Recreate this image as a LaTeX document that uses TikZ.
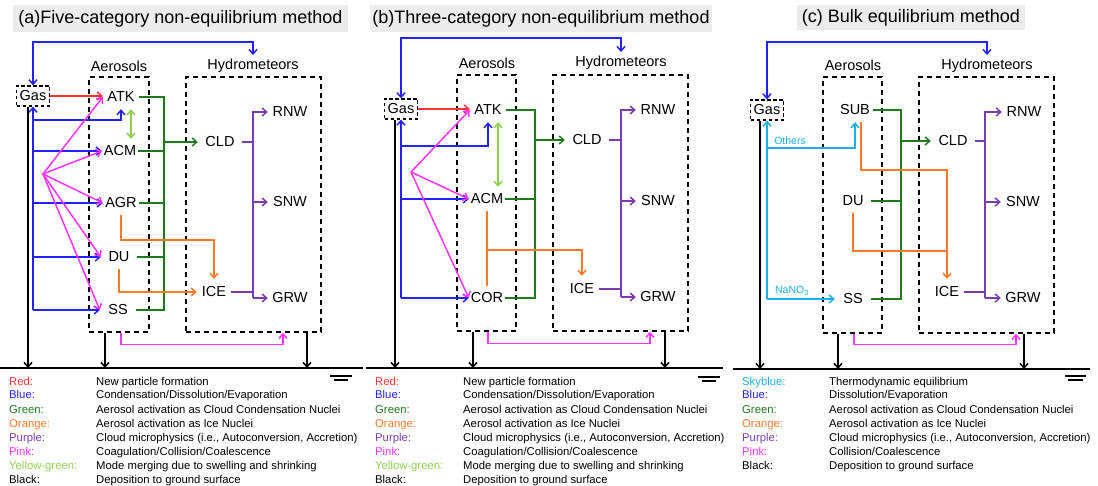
\documentclass[tikz,border=0pt]{standalone}
\usepackage{fontspec}
\setmainfont{Liberation Sans}
\usetikzlibrary{arrows.meta,calc}
\definecolor{cRed}{HTML}{FF3333}
\definecolor{cBlue}{HTML}{2222FF}
\definecolor{cGreen}{HTML}{1F7A1F}
\definecolor{cOrange}{HTML}{FF7A26}
\definecolor{cPurple}{HTML}{7A3DB0}
\definecolor{cPink}{HTML}{FF33FF}
\definecolor{cYG}{HTML}{8FD14F}
\definecolor{cSky}{HTML}{1AAFEF}
\definecolor{cTitle}{HTML}{ECECEC}
\newcommand{\fsNode}{\fontsize{14.5}{17}\selectfont}
\newcommand{\fsTitle}{\fontsize{18}{21}\selectfont}
\newcommand{\fsLeg}{\fontsize{11.3}{13}\selectfont}
\newcommand{\fsSmall}{\fontsize{10.5}{12}\selectfont}
\begin{document}
\begin{tikzpicture}[x=1pt,y=-1pt,
  wl/.style={line width=1.5pt},
  arr/.style={-{Straight Barb[length=4.5pt,width=8pt]}},
  darr/.style={{Straight Barb[length=4.5pt,width=8pt]}-{Straight Barb[length=4.5pt,width=8pt]}},
  lR/.style={wl,draw=cRed}, lB/.style={wl,draw=cBlue}, lG/.style={wl,draw=cGreen},
  lO/.style={wl,draw=cOrange}, lP/.style={wl,draw=cPurple}, lK/.style={wl,draw=cPink},
  lY/.style={wl,draw=cYG}, lS/.style={wl,draw=cSky}, lBk/.style={wl,draw=black},
  aer/.style={font=\fsNode, inner sep=0pt, minimum width=36pt, minimum height=24pt},
  hyd/.style={font=\fsNode, inner sep=0pt, minimum width=44pt, minimum height=24pt},
  icen/.style={font=\fsNode, inner sep=0pt, minimum width=34pt, minimum height=26pt},
  hdr/.style={font=\fsNode, inner sep=1pt},
  dbox/.style={draw, line width=1.5pt, dash pattern=on 5pt off 4pt, inner sep=0pt},
  gasbox/.style={draw, line width=1.3pt, dash pattern=on 3.5pt off 2.5pt, minimum width=33pt, minimum height=20pt, inner sep=0pt, font=\fsNode},
  ttl/.style={fill=cTitle, font=\fsTitle, inner sep=1pt},
  leg/.style={font=\fsLeg, anchor=base west, inner sep=0pt},
  smalllab/.style={font=\fsSmall, text=cSky, inner sep=0pt}
]
\useasboundingbox (0,0) rectangle (1098,486);

%%%%%%%%%%%%%%%% Panel (a)
\node[ttl, minimum width=335pt, minimum height=27pt] (tA) at (180.5,18.5) {(a)Five-category non-equilibrium method};
\node[hdr] (aerLA) at (119,66) {Aerosols};
\node[hdr] (hydLA) at (253,66) {Hydrometeors};
\node[dbox, minimum width=60pt, minimum height=255pt] (aerA) at (119,204.5) {};
\node[dbox, minimum width=135pt, minimum height=255pt] (hydA) at (253.5,204.5) {};
\node[gasbox] (gasA) at (33,96) {Gas};
\node[aer] (atkA) at (121,97) {ATK};
\node[aer] (acmA) at (120,151) {ACM};
\node[aer] (agrA) at (121,203) {AGR};
\node[aer] (duA) at (119,257) {DU};
\node[aer] (ssA) at (118,310) {SS};
\node[hyd] (cldA) at (220,142) {CLD};
\node[hyd] (rnwA) at (290,112) {RNW};
\node[hyd] (snwA) at (290,202) {SNW};
\node[hyd] (grwA) at (290,298) {GRW};
\node[icen] (iceA) at (214,292) {ICE};
\coordinate (gvA) at (164,0);
\coordinate (pvA) at (253,0);
\coordinate (topA) at (0,42);
\coordinate (pkA) at (43,174);
\coordinate (groundA) at (0,368);
\coordinate (gkA) at ($(gasA.south)+(-5,0)$);
\coordinate (akA) at ($(aerA.south)+(-14,0)$);
\coordinate (hkA) at ($(hydA.south)+(53.5,0)$);
\coordinate (psA) at ($(aerA.south)+(2,0)$);
\coordinate (peA) at ($(hydA.south)+(29.5,0)$);
\draw[lB,darr,shorten >=3pt] (gasA.north) |- (topA -| hydLA.north) -- (hydLA.north);
\draw[lR,arr] (gasA.east) -- (gasA.east -| atkA.west);
\draw[lB,arr] (gasA.south |- ssA) -- (gasA.south);
\draw[lB,arr] (gasA.south |- 0,120) -| (atkA.south);
\draw[lB,arr] (gasA.south |- acmA) -- (acmA.west);
\draw[lB,arr] (gasA.south |- agrA) -- (agrA.west);
\draw[lB,arr] (gasA.south |- duA) -- (duA.west);
\draw[lB,arr] (gasA.south |- ssA) -- (ssA.west);
\draw[lK,arr] (pkA) -- (atkA.west);
\draw[lK,arr] (pkA) -- (acmA.west);
\draw[lK,arr] (pkA) -- (agrA.west);
\draw[lK,arr] (pkA) -- (duA.west);
\draw[lK,arr] (pkA) -- (ssA.west);
\draw[lY,darr] ($(atkA.south)+(10,0)$) -- ($(acmA.north)+(11,0)$);
\draw[lG] (atkA.east) -- (atkA.east -| gvA) -- (ssA.east -| gvA) -- (ssA.east);
\draw[lG] (acmA.east) -- (acmA.east -| gvA);
\draw[lG] (agrA.east) -- (agrA.east -| gvA);
\draw[lG] (duA.east) -- (duA.east -| gvA);
\draw[lG,arr] (cldA.west -| gvA) -- (cldA.west);
\draw[lP] (cldA.east) -- (cldA.east -| pvA);
\draw[lP,arr] (grwA.west -| pvA) |- (rnwA.west);
\draw[lP,arr] (snwA.west -| pvA) -- (snwA.west);
\draw[lP,arr] (grwA.west -| pvA) -- (grwA.west);
\draw[lP] (iceA.east) -- (iceA.east -| pvA);
\draw[lO,arr] (agrA.south) |- (iceA.north |- 0,240) -- (iceA.north);
\draw[lO,arr] (duA.south) |- (iceA.west);
\draw[lK,arr] (psA) -- ++(0,12) -| (peA);
\draw[lBk,arr] (gkA) -- (gkA |- groundA);
\draw[lBk,arr] (akA) -- (akA |- groundA);
\draw[lBk,arr] (hkA) -- (hkA |- groundA);
\draw[lBk] (0,368) -- (363,368);
\draw[line width=1.5pt] (330,376) -- (352,376);
\draw[line width=1.5pt] (334,380) -- (348,380);
\node[leg,text=cRed] (laR) at (9,385) {Red:};
\node[leg] (laRd) at (96,385) {New particle formation};
\node[leg,text=cBlue] (laB) at (9,399) {Blue:};
\node[leg] (laBd) at (96,399) {Condensation/Dissolution/Evaporation};
\node[leg,text=cGreen] (laG) at (9,413) {Green:};
\node[leg] (laGd) at (96,413) {Aerosol activation as Cloud Condensation Nuclei};
\node[leg,text=cOrange] (laO) at (9,427) {Orange:};
\node[leg] (laOd) at (96,427) {Aerosol activation as Ice Nuclei};
\node[leg,text=cPurple] (laP) at (9,441) {Purple:};
\node[leg] (laPd) at (96,441) {Cloud microphysics (i.e., Autoconversion, Accretion)};
\node[leg,text=cPink] (laK) at (9,455) {Pink:};
\node[leg] (laKd) at (96,455) {Coagulation/Collision/Coalescence};
\node[leg,text=cYG] (laY) at (9,469) {Yellow-green:};
\node[leg] (laYd) at (96,469) {Mode merging due to swelling and shrinking};
\node[leg] (laBk) at (9,483) {Black:};
\node[leg] (laBkd) at (96,483) {Deposition to ground surface};

%%%%%%%%%%%%%%%% Panel (b)
\node[ttl, minimum width=342pt, minimum height=27pt] (tB) at (541,18.5) {(b)Three-category non-equilibrium method};
\node[hdr] (aerLB) at (487,63) {Aerosols};
\node[hdr] (hydLB) at (621,63) {Hydrometeors};
\node[dbox, minimum width=59pt, minimum height=256pt] (aerB) at (486.5,203) {};
\node[dbox, minimum width=135pt, minimum height=256pt] (hydB) at (620.5,203) {};
\node[gasbox] (gasB) at (401,109) {Gas};
\node[aer] (atkB) at (488,110) {ATK};
\node[aer] (acmB) at (487,199) {ACM};
\node[aer] (corB) at (487,298) {COR};
\node[hyd] (cldB) at (587,140) {CLD};
\node[hyd] (rnwB) at (658,110) {RNW};
\node[hyd] (snwB) at (658,201) {SNW};
\node[hyd] (grwB) at (658,297) {GRW};
\node[icen] (iceB) at (582,289) {ICE};
\coordinate (gvB) at (535,0);
\coordinate (pvB) at (621,0);
\coordinate (topB) at (0,38);
\coordinate (pkB) at (411,172);
\coordinate (groundB) at (0,368);
\coordinate (gkB) at ($(gasB.south)+(-6,0)$);
\coordinate (akB) at ($(aerB.south)+(-13.5,0)$);
\coordinate (hkB) at ($(hydB.south)+(44.5,0)$);
\coordinate (psB) at ($(aerB.south)+(1.5,0)$);
\coordinate (peB) at ($(hydB.south)+(29.5,0)$);
\draw[lB,darr,shorten >=3pt] (gasB.north) |- (topB -| hydLB.north) -- (hydLB.north);
\draw[lR,arr] (gasB.east) -- (gasB.east -| atkB.west);
\draw[lB,arr] (gasB.south |- corB) -- (gasB.south);
\draw[lB,arr] (gasB.south |- 0,146) -| (atkB.south);
\draw[lB,arr] (gasB.south |- acmB) -- (acmB.west);
\draw[lB,arr] (gasB.south |- corB) -- (corB.west);
\draw[lK,arr] (pkB) -- (atkB.west);
\draw[lK,arr] (pkB) -- (acmB.west);
\draw[lK,arr] (pkB) -- (corB.west);
\draw[lY,darr] ($(atkB.south)+(10,0)$) -- ($(acmB.north)+(11,0)$);
\draw[lG] (atkB.east) -- (atkB.east -| gvB) -- (corB.east -| gvB) -- (corB.east);
\draw[lG] (acmB.east) -- (acmB.east -| gvB);
\draw[lG,arr] (cldB.west -| gvB) -- (cldB.west);
\draw[lP] (cldB.east) -- (cldB.east -| pvB);
\draw[lP,arr] (grwB.west -| pvB) |- (rnwB.west);
\draw[lP,arr] (snwB.west -| pvB) -- (snwB.west);
\draw[lP,arr] (grwB.west -| pvB) -- (grwB.west);
\draw[lP] (iceB.east) -- (iceB.east -| pvB);
\draw[lO] (acmB.south) -- (corB.north);
\draw[lO,arr] (acmB.south |- 0,250) -| (iceB.north);
\draw[lK,arr] (psB) -- ++(0,12) -| (peB);
\draw[lBk,arr] (gkB) -- (gkB |- groundB);
\draw[lBk,arr] (akB) -- (akB |- groundB);
\draw[lBk,arr] (hkB) -- (hkB |- groundB);
\draw[lBk] (366,368) -- (723,368);
\draw[line width=1.5pt] (698,377) -- (720,377);
\draw[line width=1.5pt] (702,381) -- (716,381);
\node[leg,text=cRed] (lbR) at (375,385) {Red:};
\node[leg] (lbRd) at (463,385) {New particle formation};
\node[leg,text=cBlue] (lbB) at (375,399) {Blue:};
\node[leg] (lbBd) at (463,399) {Condensation/Dissolution/Evaporation};
\node[leg,text=cGreen] (lbG) at (375,413) {Green:};
\node[leg] (lbGd) at (463,413) {Aerosol activation as Cloud Condensation Nuclei};
\node[leg,text=cOrange] (lbO) at (375,427) {Orange:};
\node[leg] (lbOd) at (463,427) {Aerosol activation as Ice Nuclei};
\node[leg,text=cPurple] (lbP) at (375,441) {Purple:};
\node[leg] (lbPd) at (463,441) {Cloud microphysics (i.e., Autoconversion, Accretion)};
\node[leg,text=cPink] (lbK) at (375,455) {Pink:};
\node[leg] (lbKd) at (463,455) {Coagulation/Collision/Coalescence};
\node[leg,text=cYG] (lbY) at (375,469) {Yellow-green:};
\node[leg] (lbYd) at (463,469) {Mode merging due to swelling and shrinking};
\node[leg] (lbBk) at (375,483) {Black:};
\node[leg] (lbBkd) at (463,483) {Deposition to ground surface};

%%%%%%%%%%%%%%%% Panel (c)
\node[ttl, minimum width=228pt, minimum height=25pt] (tC) at (911,17.5) {(c) Bulk equilibrium method};
\node[hdr] (aerLC) at (853,65) {Aerosols};
\node[hdr] (hydLC) at (987,66) {Hydrometeors};
\node[dbox, minimum width=59pt, minimum height=256pt] (aerC) at (852.5,205) {};
\node[dbox, minimum width=135pt, minimum height=256pt] (hydC) at (986.5,205) {};
\node[gasbox] (gasC) at (767,110) {Gas};
\node[aer] (subC) at (855,110) {SUB};
\node[aer] (duC) at (853,201) {DU};
\node[aer] (ssC) at (853,299) {SS};
\node[hyd] (cldC) at (953,141) {CLD};
\node[hyd] (rnwC) at (1024,112) {RNW};
\node[hyd] (snwC) at (1023,202) {SNW};
\node[hyd] (grwC) at (1023,298) {GRW};
\node[icen] (iceC) at (947,292) {ICE};
\node[smalllab] (othC) at (790,141) {Others};
\node[smalllab] (nanoC) at (792,291) {NaNO\textsubscript{3}};
\coordinate (gvC) at (901,0);
\coordinate (pvC) at (985,0);
\coordinate (topC) at (0,42);
\coordinate (groundC) at (0,369);
\coordinate (gkC) at ($(gasC.south)+(-7,0)$);
\coordinate (akC) at ($(aerC.south)+(-14.5,0)$);
\coordinate (hkC) at ($(hydC.south)+(37.5,0)$);
\coordinate (psC) at ($(aerC.south)+(1.5,0)$);
\coordinate (peC) at ($(hydC.south)+(29.5,0)$);
\coordinate (osC) at ($(subC.south)+(6,0)$);
\draw[lB,darr,shorten >=3pt] (gasC.north) |- (topC -| hydLC.north) -- (hydLC.north);
\draw[lS,arr] (gasC.south |- ssC) -- (gasC.south);
\draw[lS,arr] (gasC.south |- 0,148) -| (subC.south);
\draw[lS,arr] (gasC.south |- ssC) -- (ssC.west);
\draw[lG] (subC.east) -- (subC.east -| gvC) -- (ssC.east -| gvC) -- (ssC.east);
\draw[lG] (duC.east) -- (duC.east -| gvC);
\draw[lG,arr] (cldC.west -| gvC) -- (cldC.west);
\draw[lP] (cldC.east) -- (cldC.east -| pvC);
\draw[lP,arr] (grwC.west -| pvC) |- (rnwC.west);
\draw[lP,arr] (snwC.west -| pvC) -- (snwC.west);
\draw[lP,arr] (grwC.west -| pvC) -- (grwC.west);
\draw[lP] (iceC.east) -- (iceC.east -| pvC);
\draw[lO,arr] (osC) |- (iceC.north |- 0,170) -- (iceC.north);
\draw[lO] (duC.south) |- (iceC.north |- 0,251);
\draw[lK,arr] (psC) -- ++(0,11) -| (peC);
\draw[lBk,arr] (gkC) -- (gkC |- groundC);
\draw[lBk,arr] (akC) -- (akC |- groundC);
\draw[lBk,arr] (hkC) -- (hkC |- groundC);
\draw[lBk] (733,369) -- (1090,369);
\draw[line width=1.5pt] (1065,376) -- (1086,376);
\draw[line width=1.5pt] (1068,380) -- (1083,380);
\node[leg,text=cSky] (lcS) at (742,385) {Skyblue:};
\node[leg] (lcSd) at (829,385) {Thermodynamic equilibrium};
\node[leg,text=cBlue] (lcB) at (742,399) {Blue:};
\node[leg] (lcBd) at (829,399) {Dissolution/Evaporation};
\node[leg,text=cGreen] (lcG) at (742,413) {Green:};
\node[leg] (lcGd) at (829,413) {Aerosol activation as Cloud Condensation Nuclei};
\node[leg,text=cOrange] (lcO) at (742,427) {Orange:};
\node[leg] (lcOd) at (829,427) {Aerosol activation as Ice Nuclei};
\node[leg,text=cPurple] (lcP) at (742,441) {Purple:};
\node[leg] (lcPd) at (829,441) {Cloud microphysics (i.e., Autoconversion, Accretion)};
\node[leg,text=cPink] (lcK) at (742,455) {Pink:};
\node[leg] (lcKd) at (829,455) {Collision/Coalescence};
\node[leg] (lcBk) at (742,469) {Black:};
\node[leg] (lcBkd) at (829,469) {Deposition to ground surface};
\end{tikzpicture}
\end{document}
